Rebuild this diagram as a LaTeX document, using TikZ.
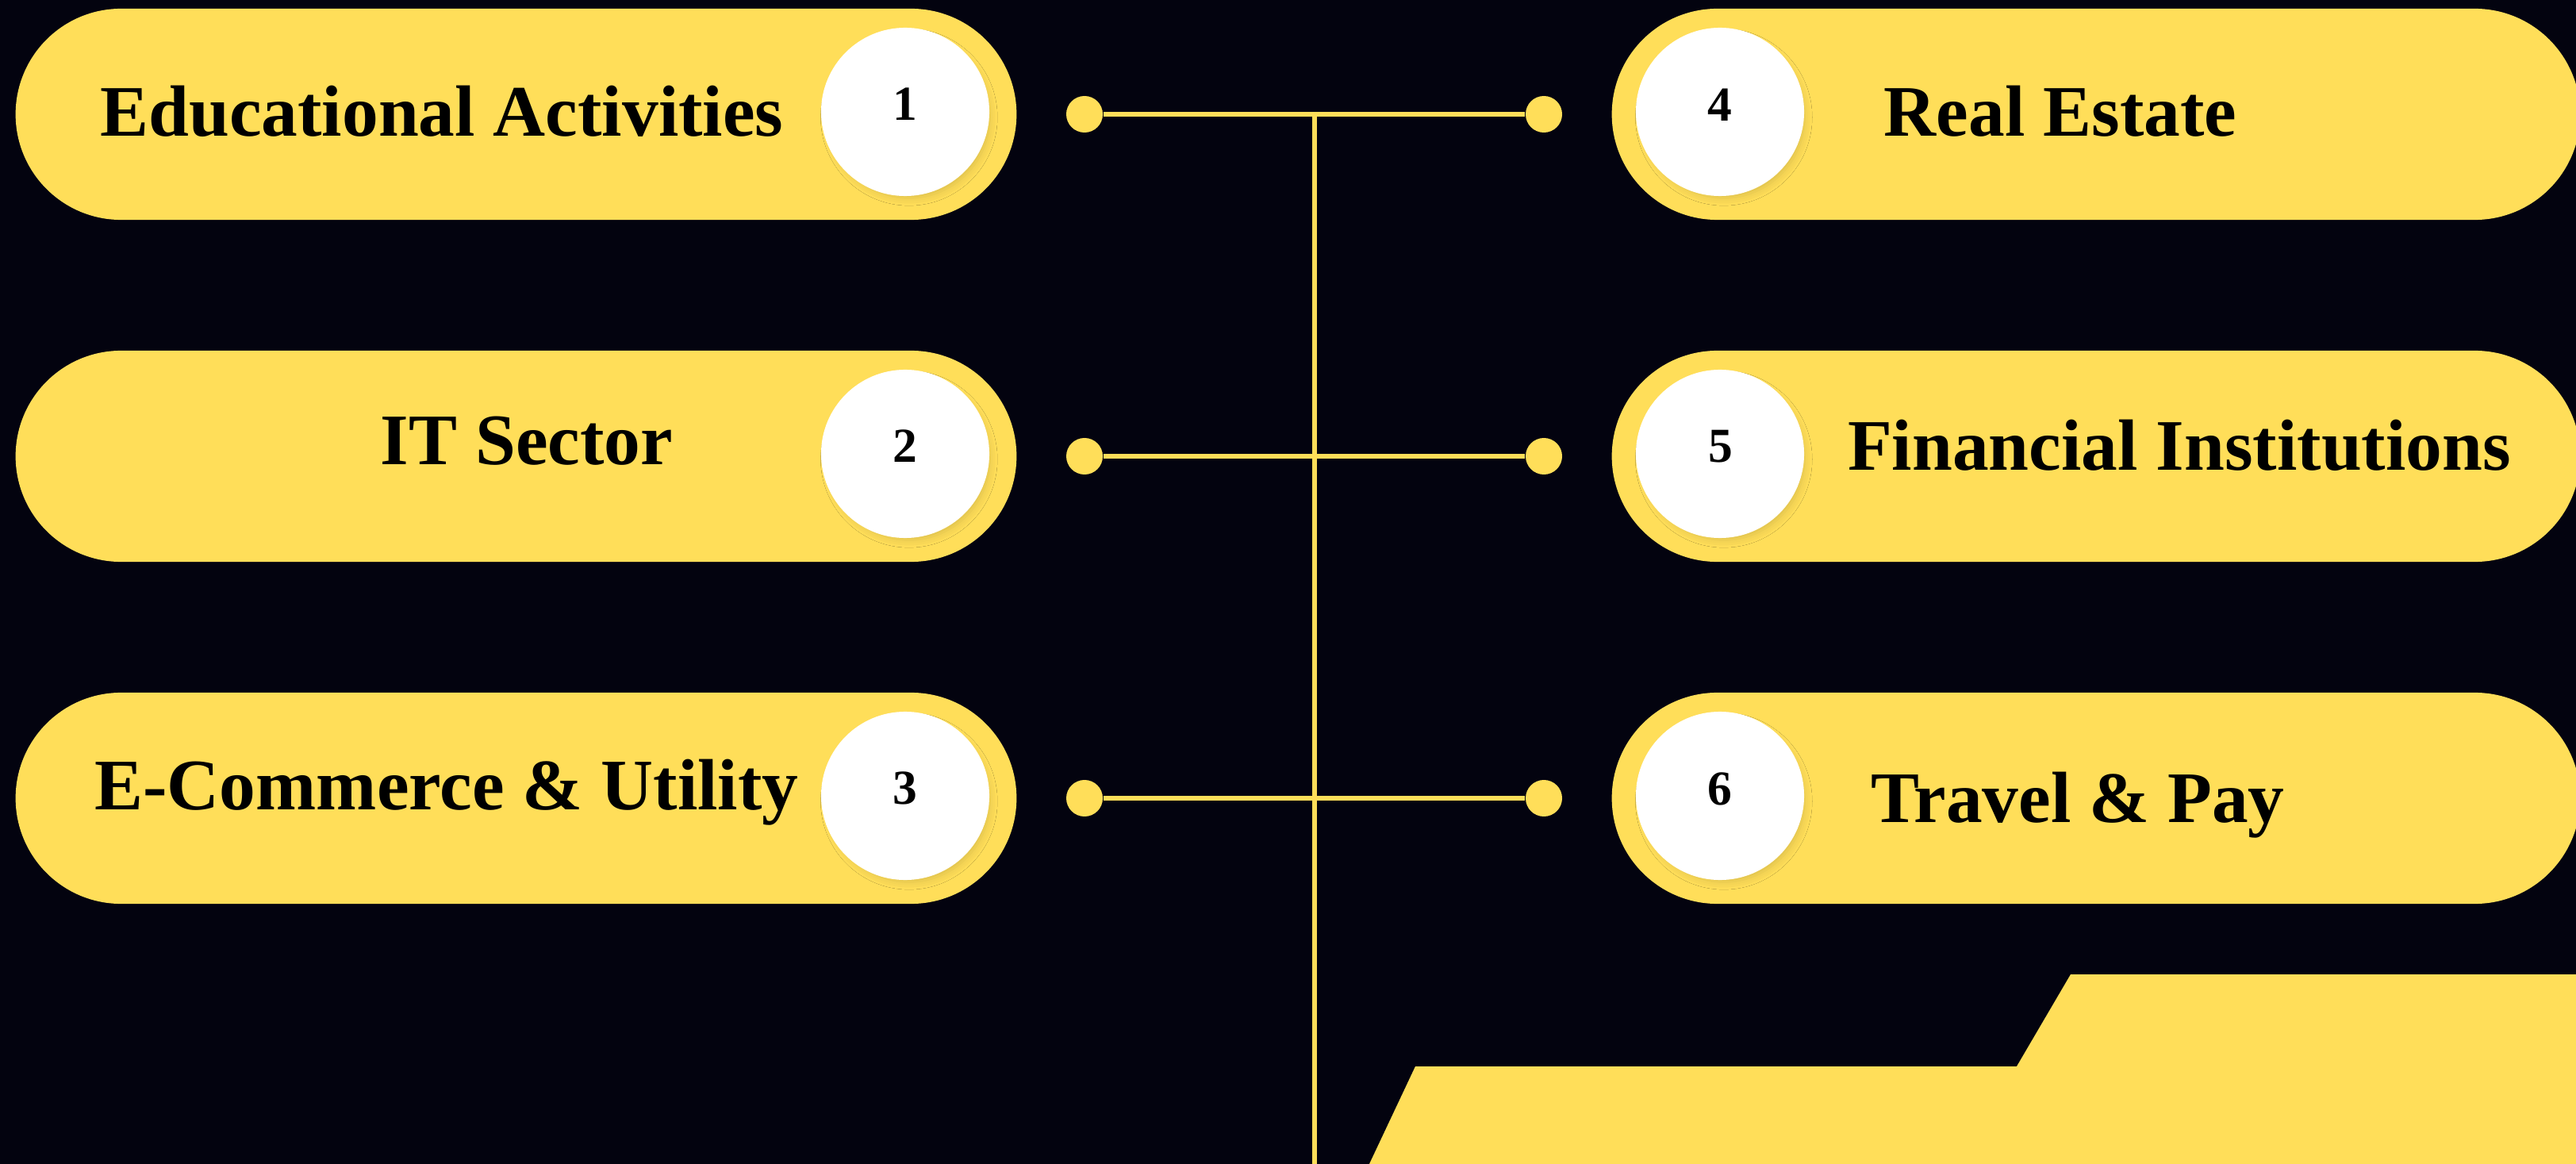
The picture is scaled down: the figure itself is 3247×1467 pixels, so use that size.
\documentclass[tikz,border=0pt]{standalone}
\usepackage{fontspec}
\setmainfont{Liberation Serif}
\usetikzlibrary{shadows.blur}
\definecolor{bgc}{HTML}{03030F}
\definecolor{yel}{HTML}{FFDE59}
\tikzset{
  pill/.style={rectangle, rounded corners=1.33cm, fill=yel, draw=none, minimum height=2.66cm, inner sep=0pt},
  numc/.style={circle, fill=white, draw=none, minimum size=2.12cm, inner sep=0pt,
    blur shadow={shadow xshift=0.05cm, shadow yshift=-0.07cm, shadow scale=0.96, shadow blur radius=0.1cm, shadow opacity=14}},
  lbl/.style={anchor=base, inner sep=0pt, text=black, font=\fontsize{26}{30}\selectfont\bfseries},
  num/.style={anchor=base, inner sep=0pt, text=black, font=\fontsize{17.5}{20}\selectfont\bfseries},
  dot/.style={circle, fill=yel, draw=none, minimum size=0.46cm, inner sep=0pt},
  link/.style={draw=yel, line width=0.06cm}
}
\begin{document}
\begin{tikzpicture}[x=0.01cm, y=-0.01cm]
\useasboundingbox (0,0) rectangle (3247,1467);
\fill[bgc] (0,0) rectangle (3247,1467);

% bottom shape
\fill[yel] (1784,1344) -- (2542,1344) -- (2610,1228) -- (3247,1228) -- (3247,1467) -- (1726,1467) -- cycle;

% pills
\node[pill, minimum width=12.61cm] (p1) at (650.5,144) {};
\node[pill, minimum width=12.61cm] (p2) at (650.5,575) {};
\node[pill, minimum width=12.61cm] (p3) at (650.5,1006) {};
\node[pill, minimum width=12.20cm] (p4) at (2642,144) {};
\node[pill, minimum width=12.20cm] (p5) at (2642,575) {};
\node[pill, minimum width=12.20cm] (p6) at (2642,1006) {};

% number circles
\node[numc] (c1) at (1141,141) {};
\node[numc] (c2) at (1141,572) {};
\node[numc] (c3) at (1141,1003) {};
\node[numc] (c4) at (2168,141) {};
\node[numc] (c5) at (2168,572) {};
\node[numc] (c6) at (2168,1003) {};

\node[num] (n1) at (1141,152) {1};
\node[num] (n2) at (1141,583) {2};
\node[num] (n3) at (1141,1013) {3};
\node[num] (n4) at (2168,153) {4};
\node[num] (n5) at (2169,583) {5};
\node[num] (n6) at (2168,1014) {6};

% labels
\node[lbl] (t1) at (557,172) {Educational Activities};
\node[lbl] (t2) at (664,586) {IT Sector};
\node[lbl] (t3) at (563,1020) {E-Commerce \& Utility};
\node[lbl] (t4) at (2597,172) {Real Estate};
\node[lbl] (t5) at (2747,593) {Financial Institutions};
\node[lbl] (t6) at (2619,1036) {Travel \& Pay};

% connectors
\coordinate (top) at (1657,144);
\coordinate (bot) at (1657,1467);
\draw[link] (top) -- (bot);

\node[dot] (dl1) at (1367,144) {};
\node[dot] (dr1) at (1946,144) {};
\node[dot] (dl2) at (1367,575) {};
\node[dot] (dr2) at (1946,575) {};
\node[dot] (dl3) at (1367,1006) {};
\node[dot] (dr3) at (1946,1006) {};
\draw[link] (dl1) -- (dr1);
\draw[link] (dl2) -- (dr2);
\draw[link] (dl3) -- (dr3);
\end{tikzpicture}
\end{document}
